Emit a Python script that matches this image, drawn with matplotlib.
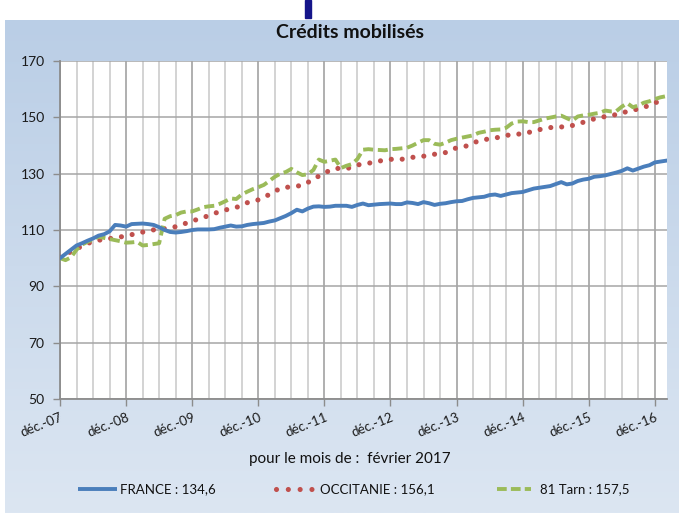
import numpy as np
import matplotlib
matplotlib.use("Agg")
import matplotlib.pyplot as plt
from matplotlib.lines import Line2D
from matplotlib.patches import Rectangle

plt.rcParams['font.family'] = ['Lato', 'DejaVu Sans']
plt.rcParams['lines.scale_dashes'] = False

# ---------------- data (index base 100 = déc. 2007) ----------------
title = "Crédits mobilisés"
subtitle = "pour le mois de :  février 2017"
year_labels = ['déc.-07', 'déc.-08', 'déc.-09', 'déc.-10', 'déc.-11',
               'déc.-12', 'déc.-13', 'déc.-14', 'déc.-15', 'déc.-16']
series_names = ['FRANCE : 134,6', 'OCCITANIE : 156,1', '81 Tarn : 157,5']

# monthly values, déc-07 (month 0) .. févr-17 (month 110)
france = [100.0, 101.5, 103.0, 104.5, 105.3, 106.2, 107.0, 108.0, 108.5, 109.5,
          111.8, 111.6, 111.2, 112.1, 112.2, 112.3, 112.1, 111.8, 111.0, 110.0,
          109.3, 109.1, 109.3, 109.6, 110.0, 110.2, 110.2, 110.2, 110.3, 110.8,
          111.2, 111.6, 111.2, 111.3, 111.8, 112.1, 112.3, 112.5, 113.0, 113.4,
          114.2, 115.0, 116.0, 117.2, 116.6, 117.6, 118.3, 118.4, 118.2, 118.3,
          118.6, 118.6, 118.6, 118.2, 118.9, 119.4, 118.8, 119.0, 119.2, 119.3,
          119.4, 119.2, 119.2, 119.8, 119.6, 119.2, 119.9, 119.5, 118.9, 119.3,
          119.5, 119.9, 120.2, 120.3, 120.9, 121.4, 121.6, 121.8, 122.4, 122.6,
          122.1, 122.6, 123.1, 123.3, 123.5, 124.1, 124.7, 125.0, 125.3, 125.6,
          126.3, 127.0, 126.2, 126.5, 127.4, 127.9, 128.2, 128.9, 129.1, 129.4,
          129.9, 130.4, 131.0, 131.9, 131.1, 131.8, 132.5, 133.0, 134.0, 134.3,
          134.6]

tarn = [100.0, 99.3, 100.3, 103.0, 104.8, 105.8, 106.6, 107.6, 107.2, 106.8,
        106.4, 106.0, 105.5, 105.6, 105.8, 104.5, 104.7, 105.0, 105.3, 114.0,
        114.9, 115.3, 116.2, 116.6, 116.6, 117.3, 118.1, 118.4, 118.6, 119.3,
        120.2, 121.2, 121.0, 122.6, 123.6, 124.5, 125.2, 126.0, 127.4, 128.9,
        130.0, 130.6, 131.7, 130.5, 129.5, 129.8, 131.3, 135.0, 134.2, 134.6,
        135.0, 132.0, 132.8, 133.4, 135.2, 138.5, 138.7, 138.5, 138.4, 138.3,
        138.7, 138.8, 139.0, 139.2, 140.0, 141.0, 141.9, 141.9, 140.6, 140.3,
        141.0, 141.9, 142.4, 142.8, 143.2, 143.6, 144.5, 144.9, 145.4, 145.6,
        145.7, 146.3, 147.8, 148.5, 148.6, 148.3, 148.3, 148.9, 149.5, 149.9,
        150.3, 150.6, 149.7, 148.8, 150.3, 150.7, 150.9, 151.3, 151.6, 152.4,
        152.1, 152.2, 153.8, 155.0, 153.6, 154.2, 155.2, 155.7, 156.5, 157.1,
        157.5]

# read every two months (déc-07, févr-08, ... févr-17)
occitanie = [100.3, 102.3, 104.3, 106.0, 106.7, 107.2, 107.9, 108.8, 109.7, 110.4,
             110.6, 111.8, 113.2, 114.4, 115.9, 117.1, 118.0, 119.7, 120.7, 122.6,
             124.8, 125.4, 125.8, 128.0, 130.3, 131.9, 131.7, 133.1, 133.7, 134.5,
             135.1, 135.1, 135.8, 136.2, 136.9, 137.5, 139.2, 139.9, 141.7, 142.4,
             143.0, 144.0, 144.1, 145.1, 146.1, 146.6, 146.6, 147.6, 148.9, 150.0,
             150.5, 151.6, 152.5, 153.5, 155.2, 156.1]

months_m = np.arange(len(france))
months_b = np.arange(len(occitanie)) * 2

# ---------------- figure ----------------
W, H = 679, 513
fig = plt.figure(figsize=(W / 100, H / 100), dpi=100)
fig.patch.set_facecolor('white')

# background panel with gradient
bg = fig.add_axes([5 / W, 0, 1 - 5 / W, 1 - 20 / H])
bg.set_axis_off()
grad = np.linspace(0, 1, 256).reshape(-1, 1)
top = np.array([0xba, 0xce, 0xe6]) / 255
bot = np.array([0xdc, 0xe6, 0xf2]) / 255
img = top[None, None, :] * (1 - grad[:, :, None]) + bot[None, None, :] * grad[:, :, None]
bg.imshow(img, aspect='auto', extent=[0, 1, 0, 1], origin='upper')
bg.set_xlim(0, 1)
bg.set_ylim(0, 1)

# small dark bar at top
fig.add_artist(Rectangle((305 / W, 1 - 18 / H), 6 / W, 18 / H,
                         transform=fig.transFigure, color='#15158a', zorder=5))

# main axes
ax = fig.add_axes([60 / W, 1 - 399 / H, 607 / W, 338 / H])
ax.set_facecolor('white')
ax.set_xlim(0, 110.2)
ax.set_ylim(50, 170)

ax.set_yticks(np.arange(50, 171, 20))
ax.set_xticks(np.arange(0, 109, 12))
ax.set_xticks(np.arange(0, 111, 3), minor=True)
ax.set_xticklabels(year_labels, rotation=22, ha='right', rotation_mode='anchor',
                   fontsize=9.5, color='#1a1a1a')
ax.tick_params(axis='y', labelsize=10, colors='#1a1a1a', length=5, width=1,
               direction='out', pad=6)
ax.tick_params(axis='y', color='#8c8c8c')
ax.tick_params(axis='x', which='major', length=5, width=1, color='#8c8c8c', pad=4)
ax.tick_params(axis='x', which='minor', length=0)

ax.grid(axis='y', color='#a6a6a6', lw=1.1)
ax.grid(axis='x', which='minor', color='#c8c8c8', lw=1.1)
ax.grid(axis='x', which='major', color='#9a9a9a', lw=1.1)
ax.set_axisbelow(True)
for s in ['top', 'right']:
    ax.spines[s].set_visible(False)
for s in ['left', 'bottom']:
    ax.spines[s].set_color('#8c8c8c')
    ax.spines[s].set_linewidth(1.3)

blue = '#4a7ebb'
red = '#c0504d'
green = '#9bbb59'

ax.plot(months_m, france, color=blue, lw=2.8, solid_joinstyle='round', zorder=4)
ax.plot(months_b, occitanie, color=red, lw=3.7, linestyle=(0, (0.01, 7.85)),
        dash_capstyle='round', zorder=3)
ax.plot(months_m, tarn, color=green, lw=2.8, linestyle=(0, (7.2, 3.4)),
        dash_capstyle='butt', zorder=3)

# titles
fig.text(350 / W, 1 - 33 / H, title, ha='center', va='center',
         fontsize=14, fontweight='bold', color='#111111')
fig.text(350 / W, 1 - 459 / H, subtitle, ha='center', va='center',
         fontsize=11, color='#111111')

# legend (manual placement)
ly = 1 - 489 / H
handles = [
    (78, 117, dict(color=blue, lw=2.8, solid_capstyle='butt'), 120),
    (276, 312, dict(color=red, lw=3.7, linestyle=(0, (0.01, 8.5)), dash_capstyle='round'), 320),
    (497, 531, dict(color=green, lw=2.8, linestyle=(0, (7.0, 3.0)), dash_capstyle='butt'), 540),
]
for (x0, x1, kw, tx), name in zip(handles, series_names):
    fig.add_artist(Line2D([x0 / W, x1 / W], [ly, ly], transform=fig.transFigure, **kw))
    fig.text(tx / W, ly, name, ha='left', va='center', fontsize=9.5, color='#111111')

fig.savefig('out.png', dpi=100)
